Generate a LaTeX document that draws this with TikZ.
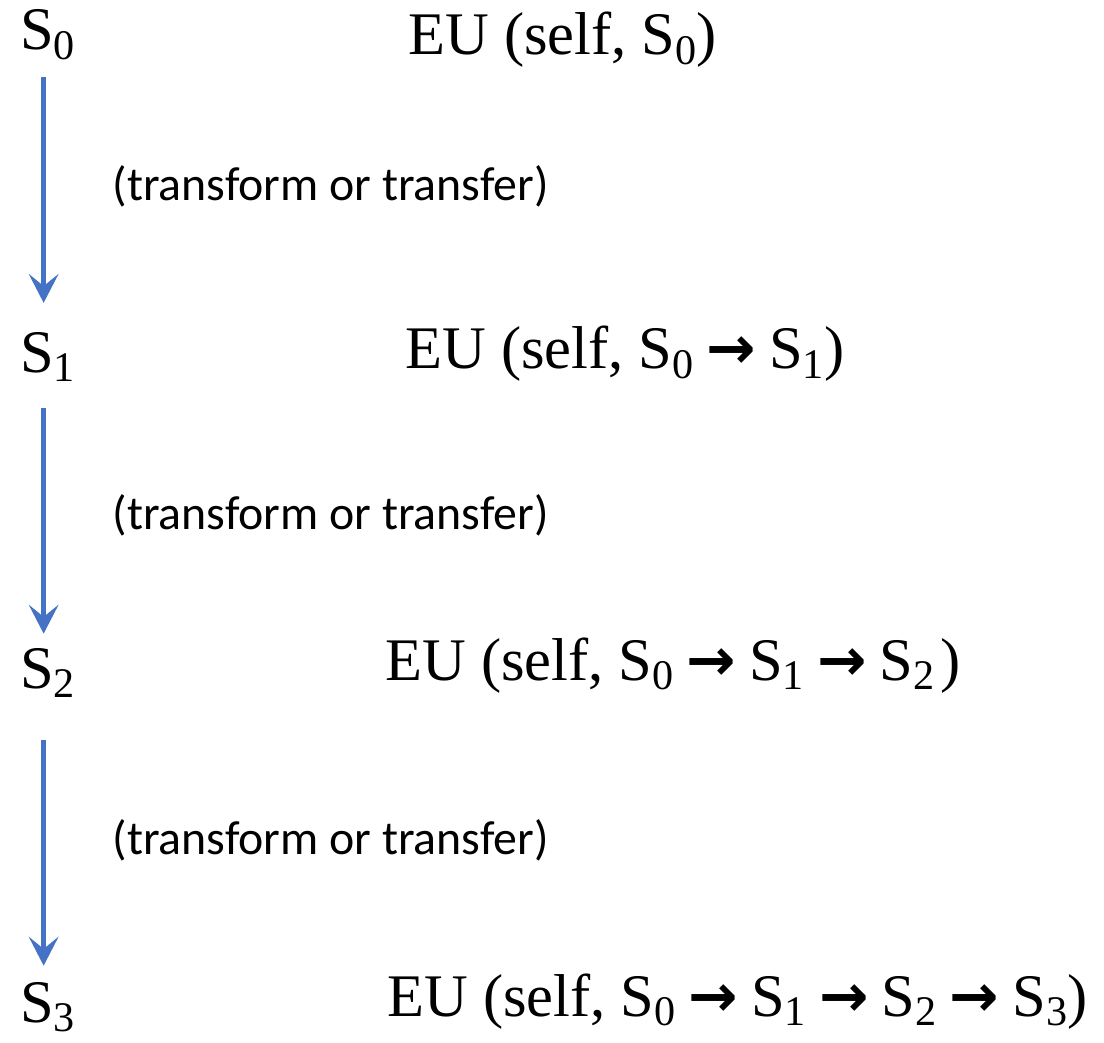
\documentclass[tikz,border=0pt]{standalone}
\usepackage{fontspec}
\setmainfont{Liberation Serif}
\newfontfamily\movefont{Carlito}
\newfontfamily\symfont{DejaVu Sans}
\usetikzlibrary{arrows.meta,positioning}

\definecolor{flowblue}{HTML}{4472C4}

% state with a lowered index, and the bold arrow between states
\newcommand{\Sn}[1]{S\raisebox{-7pt}{\fontsize{30}{30}\selectfont #1}}
\newcommand{\goesto}{\hspace{0.33cm}{\symfont\bfseries\fontsize{42}{42}\selectfont →}\hspace{0.33cm}}

\begin{document}
\begin{tikzpicture}[
    x=0.025cm, y=-0.025cm,
    state/.style={inner sep=0pt, anchor=base west, font=\fontsize{43}{43}\selectfont},
    utility/.style={inner sep=0pt, anchor=base west, font=\fontsize{43}{43}\selectfont},
    move/.style={inner sep=0pt, anchor=west, xshift=1.66cm, font=\movefont\fontsize{34}{34}\selectfont},
    flow/.style={draw=flowblue, line width=3.5pt, -{Stealth[length=0.72cm, width=0.74cm, inset=0.3cm]}}
]
    \useasboundingbox (0,0) rectangle (1104,1043);

    \node[state] (s0) at (20,50) {\Sn{0}};
    \node[state] (s1) at (20,372) {\Sn{1}};
    \node[state] (s2) at (20,688) {\Sn{2}};
    \node[state] (s3) at (20,1022) {\Sn{3}};

    \node[utility] (u0) at (408,55) {EU (self, \Sn{0})};
    \node[utility] (u1) at (405,369) {EU (self, \Sn{0}\goesto\Sn{1})};
    \node[utility] (u2) at (385,680) {EU (self, \Sn{0}\goesto\Sn{1}\goesto\Sn{2}\hspace{0.15cm})};
    \node[utility] (u3) at (387,1016) {EU (self, \Sn{0}\goesto\Sn{1}\goesto\Sn{2}\goesto\Sn{3})};

    \draw[flow, shorten <=0.42cm, shorten >=0.72cm] ([xshift=-0.1cm]s0.south) -- node[move, midway, yshift=0.25cm] (m1) {(transform or transfer)} ([xshift=-0.1cm]s1.north);
    \draw[flow, shorten <=0.64cm, shorten >=0.35cm] ([xshift=-0.1cm]s1.south) -- node[move, midway] (m2) {(transform or transfer)} ([xshift=-0.1cm]s2.north);
    \draw[flow, shorten <=1.04cm, shorten >=0.4cm] ([xshift=-0.1cm]s2.south) -- node[move, midway] (m3) {(transform or transfer)} ([xshift=-0.1cm]s3.north);
\end{tikzpicture}
\end{document}
